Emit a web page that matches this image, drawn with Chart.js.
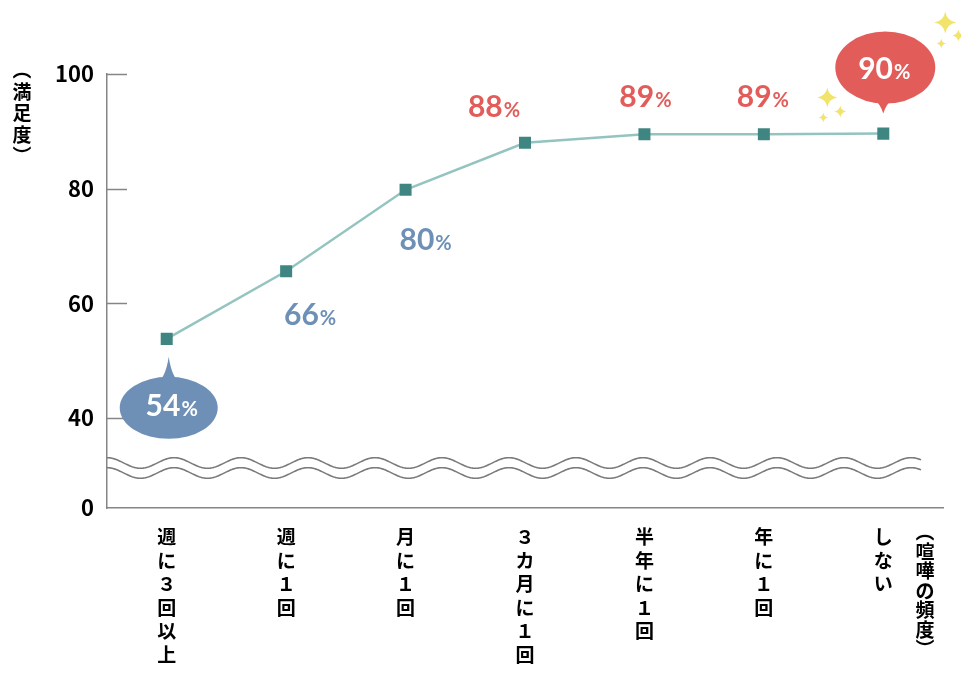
<!DOCTYPE html>
<html lang="ja">
<head>
<meta charset="utf-8">
<title>喧嘩の頻度と満足度</title>
<script src="https://cdn.jsdelivr.net/npm/chart.js@4.4.1/dist/chart.umd.min.js"></script>
<style>
  html, body { margin: 0; padding: 0; background: #fff; }
  #wrap { width: 961px; height: 673px; }
</style>
</head>
<body>
<div id="wrap"><canvas id="fightChart" width="961" height="673"></canvas></div>
<script>
// categories written vertically: one character per line
const categories = [
    ['週', 'に', '３', '回', '以', '上'],
    ['週', 'に', '１', '回'],
    ['月', 'に', '１', '回'],
    ['３', 'カ', '月', 'に', '１', '回'],
    ['半', '年', 'に', '１', '回'],
    ['年', 'に', '１', '回'],
    ['し', 'な', 'い']
];
const satisfaction = [53.8, 65.6, 79.8, 88.0, 89.5, 89.5, 89.6];
const percentLabels = ['54', '66', '80', '88', '89', '89', '90'];
const yTickValues = [40, 60, 80, 100];
const yTickLabels = ['0', '40', '60', '80', '100'];
// the axis is broken below 40: "0" sits at this scale value
const axisFloor = 24.3;

const xTitle = ['︵', '喧', '嘩', 'の', '頻', '度', '︶'];
const yTitle = ['︵', '満', '足', '度', '︶'];

const BLUE = '#6e90b6';
const RED = '#e25d5a';
const AXIS = '#858585';
const STAR = '#f1e36c';

function drawPercent(ctx, text, cx, cy, color) {
    ctx.save();
    ctx.fillStyle = color;
    ctx.textBaseline = 'alphabetic';
    ctx.textAlign = 'left';
    ctx.font = 'bold 30px Lato, "Noto Sans", sans-serif';
    const w1 = ctx.measureText(text).width;
    ctx.font = 'bold 20px Lato, "Noto Sans", sans-serif';
    const w2 = ctx.measureText('%').width;
    const x0 = cx - (w1 + w2 + 1) / 2;
    const base = cy + 11;
    ctx.font = 'bold 30px Lato, "Noto Sans", sans-serif';
    ctx.fillText(text, x0, base);
    ctx.font = 'bold 20px Lato, "Noto Sans", sans-serif';
    ctx.fillText('%', x0 + w1 + 1, base);
    ctx.restore();
}

function drawBubble(ctx, cx, cy, rx, ry, tipX, tipY, color) {
    ctx.save();
    ctx.fillStyle = color;
    ctx.beginPath();
    ctx.ellipse(cx, cy, rx, ry, 0, 0, Math.PI * 2);
    ctx.fill();
    const dir = tipY < cy ? -1 : 1;
    const baseY = cy + dir * (ry - 6);
    ctx.beginPath();
    ctx.moveTo(tipX - 11, baseY);
    ctx.quadraticCurveTo(tipX - 3, baseY + dir * 6, tipX, tipY);
    ctx.quadraticCurveTo(tipX + 3, baseY + dir * 6, tipX + 11, baseY);
    ctx.closePath();
    ctx.fill();
    ctx.restore();
}

function drawStar(ctx, x, y, r) {
    const k = r * 0.14;
    ctx.save();
    ctx.fillStyle = STAR;
    ctx.beginPath();
    ctx.moveTo(x, y - r);
    ctx.quadraticCurveTo(x + k, y - k, x + r, y);
    ctx.quadraticCurveTo(x + k, y + k, x, y + r);
    ctx.quadraticCurveTo(x - k, y + k, x - r, y);
    ctx.quadraticCurveTo(x - k, y - k, x, y - r);
    ctx.fill();
    ctx.restore();
}

const decorations = {
    id: 'decorations',
    beforeDatasetsDraw(chart) {
        const ctx = chart.ctx;
        const area = chart.chartArea;
        const y = chart.scales.y;
        // inward ticks
        ctx.save();
        ctx.strokeStyle = AXIS;
        ctx.lineWidth = 1.5;
        yTickValues.forEach(v => {
            const py = Math.round(y.getPixelForValue(v)) + 0.5;
            ctx.beginPath();
            ctx.moveTo(area.left, py);
            ctx.lineTo(area.left + 20, py);
            ctx.stroke();
        });
        // axis break: two wavy lines
        const breakY = (y.getPixelForValue(40) + y.getPixelForValue(axisFloor)) / 2 + 5;
        ctx.strokeStyle = '#7a7a7a';
        ctx.lineWidth = 1.6;
        [-5, 5].forEach(off => {
            ctx.beginPath();
            for (let px = area.left; px <= area.right - 22; px += 1) {
                const py = breakY + off - 5.3 * Math.cos(2 * Math.PI * (px - area.left) / 67);
                if (px === area.left) ctx.moveTo(px, py); else ctx.lineTo(px, py);
            }
            ctx.stroke();
        });
        ctx.restore();

        // axis titles, vertical
        ctx.save();
        ctx.fillStyle = '#000';
        ctx.textAlign = 'center';
        ctx.textBaseline = 'middle';
        ctx.font = 'bold 19px "Noto Sans CJK JP", sans-serif';
        yTitle.forEach((ch, i) => ctx.fillText(ch, 22, 70 + i * 21.5));
        xTitle.forEach((ch, i) => ctx.fillText(ch, 925, 532 + i * 19.5));
        ctx.restore();
    },
    afterDatasetsDraw(chart) {
        const ctx = chart.ctx;
        const pts = chart.getDatasetMeta(0).data;
        const offsets = [[3, 66], [24, 43], [20, 49], [-31, -37], [1, -38], [-1, -38], [0, -66]];
        pts.forEach((p, i) => {
            const color = i < 3 ? BLUE : RED;
            const cx = p.x + offsets[i][0];
            const cy = p.y + offsets[i][1];
            if (i === 0) {
                drawBubble(ctx, p.x + 2, p.y + 69, 49, 31, p.x + 2, p.y + 18, color);
                drawPercent(ctx, percentLabels[i], p.x + 5, p.y + 66, '#fff');
            } else if (i === pts.length - 1) {
                drawBubble(ctx, p.x + 2, p.y - 66, 50, 36, p.x, p.y - 20, color);
                drawPercent(ctx, percentLabels[i], p.x + 1, p.y - 66, '#fff');
                drawStar(ctx, p.x - 56, p.y - 36, 10);
                drawStar(ctx, p.x - 43, p.y - 22, 6);
                drawStar(ctx, p.x - 60, p.y - 16, 5);
                drawStar(ctx, p.x + 62, p.y - 111, 11);
                drawStar(ctx, p.x + 75, p.y - 98, 6);
                drawStar(ctx, p.x + 58, p.y - 90, 5);
            } else {
                drawPercent(ctx, percentLabels[i], cx, cy, color);
            }
        });
    }
};

document.addEventListener('DOMContentLoaded', function() {
    const ctx = document.getElementById('fightChart').getContext('2d');
    new Chart(ctx, {
        type: 'line',
        data: {
            labels: categories,
            datasets: [{
                label: '満足度',
                data: satisfaction,
                borderColor: '#94c4c0',
                borderWidth: 2.5,
                pointStyle: 'rect',
                pointRadius: 8.5,
                pointBorderWidth: 0,
                pointBackgroundColor: '#3f8683',
                pointBorderColor: '#3f8683',
                tension: 0,
                fill: false
            }]
        },
        options: {
            responsive: false,
            animation: false,
            layout: { padding: { left: 0, right: 18, top: 74, bottom: 0 } },
            plugins: {
                legend: { display: false },
                tooltip: { enabled: false }
            },
            scales: {
                x: {
                    offset: true,
                    grid: { display: false, drawTicks: false },
                    border: { display: true, color: AXIS, width: 1.5 },
                    ticks: {
                        color: '#000',
                        maxRotation: 0,
                        autoSkip: false,
                        padding: 17,
                        font: { family: '"Noto Sans CJK JP", sans-serif', size: 19, weight: 'bold', lineHeight: 1.24 }
                    },
                    afterFit(scale) { scale.height = 165; }
                },
                y: {
                    min: axisFloor,
                    max: 100,
                    grid: { display: false, drawTicks: false },
                    border: { display: true, color: AXIS, width: 1.5 },
                    afterBuildTicks(scale) {
                        scale.ticks = [axisFloor].concat(yTickValues).map(v => ({ value: v }));
                    },
                    ticks: {
                        color: '#000',
                        padding: 13,
                        font: { family: '"Noto Sans CJK JP", sans-serif', size: 22, weight: 'bold' },
                        callback: function(value, index) { return yTickLabels[index]; }
                    },
                    afterFit(scale) { scale.width = 107; }
                }
            }
        },
        plugins: [decorations]
    });
});
</script>
</body>
</html>
